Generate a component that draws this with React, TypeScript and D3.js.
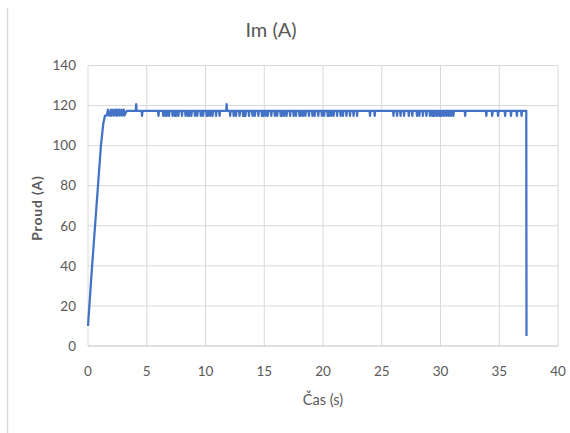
import React, { useEffect, useRef } from 'react';
import * as d3 from 'd3';

// ramp-up at start, then flat level with short dips and two spikes, drop at the end
const rampTimes = [0, 0.15, 0.35, 0.6, 0.85, 1.1, 1.3, 1.45, 1.6, 1.7, 1.8, 1.9];
const rampValues = [10, 23, 40, 60, 80, 100, 111, 115, 115, 118, 115, 115];
const earlyJagTimes = [2.0, 2.2, 2.4, 2.5, 2.7, 2.9, 3.1];
const dipTimes = [
  4.6, 6.0, 6.4, 6.6, 6.7, 6.9, 7.2, 7.4, 7.5, 7.7, 8.0, 8.3, 8.5, 8.6, 8.8, 9.1, 9.3,
  9.6, 9.8, 10.1, 10.2, 10.4, 10.6, 10.9, 11.2, 12.1, 12.4, 12.6, 12.9, 13.2, 13.3,
  13.4, 13.7, 14.0, 14.2, 14.5, 14.8, 14.9, 15.1, 15.3, 15.6, 15.9, 16.1, 16.4, 16.5,
  16.7, 16.9, 17.2, 17.5, 17.7, 18.0, 18.1, 18.3, 18.5, 18.8, 19.1, 19.3, 19.6, 19.9,
  20.1, 20.4, 20.5, 20.7, 20.9, 21.2, 21.5, 21.7, 22.0, 22.3, 22.6, 22.9, 24.0, 24.4,
  26.0, 26.3, 26.6, 26.9, 27.3, 27.6, 28.0, 28.2, 28.5, 28.8, 29.1, 29.3, 29.4, 29.5,
  29.7, 29.9, 30.0, 30.1, 30.3, 30.5, 30.7, 30.9, 31.1, 32.1, 33.9, 34.4, 34.9, 35.5,
  36.0, 36.5, 36.9,
];
const spikeTimes = [4.1, 11.8];
const baseLevel = 117.4;
const dipLevel = 114.8;
const spikeLevel = 120.7;
const endTime = 37.3;
const endValue = 5;

const xTicks = [0, 5, 10, 15, 20, 25, 30, 35, 40];
const yTicks = [0, 20, 40, 60, 80, 100, 120, 140];

const font = 'Lato, "Open Sans", sans-serif';
const textColor = '#595959';

const App: React.FC = () => {
  const svgRef = useRef<SVGSVGElement>(null);

  useEffect(() => {
    if (!svgRef.current) return;
    const svg = d3.select(svgRef.current);
    svg.selectAll('*').remove();

    const width = 570;
    const height = 433;
    const margin = { top: 65.5, right: 12, bottom: 87, left: 88 };
    const w = width - margin.left - margin.right;
    const h = height - margin.top - margin.bottom;

    const x = d3.scaleLinear().domain([0, 40]).range([0, w]);
    const y = d3.scaleLinear().domain([0, 140]).range([h, 0]);

    // build point list from the arrays above
    const pts: [number, number][] = rampTimes.map((t, i) => [t, rampValues[i]]);
    earlyJagTimes.forEach((t) => {
      pts.push([t - 0.05, 118]);
      pts.push([t, 115]);
    });
    pts.push([3.3, baseLevel]);
    const events = [
      ...dipTimes.map((t) => ({ t, v: dipLevel })),
      ...spikeTimes.map((t) => ({ t, v: spikeLevel })),
    ].sort((a, b) => a.t - b.t);
    events.forEach((e) => {
      pts.push([e.t - 0.04, baseLevel]);
      pts.push([e.t, e.v]);
      pts.push([e.t + 0.04, baseLevel]);
    });
    pts.push([endTime, baseLevel]);
    pts.push([endTime + 0.02, endValue]);

    // left frame edge
    svg.append('line')
      .attr('x1', 7.5).attr('x2', 7.5).attr('y1', 8).attr('y2', height)
      .attr('stroke', '#d9d9d9').attr('stroke-width', 1.5);

    svg.append('text')
      .attr('x', 271).attr('y', 37)
      .attr('text-anchor', 'middle')
      .attr('font-family', font).attr('font-size', 20)
      .attr('fill', textColor)
      .text('Im (A)');

    const g = svg.append('g').attr('transform', `translate(${margin.left},${margin.top})`);

    g.append('g').selectAll('line.h').data(yTicks.slice(1)).join('line')
      .attr('x1', 0).attr('x2', w)
      .attr('y1', (d) => y(d)).attr('y2', (d) => y(d))
      .attr('stroke', '#d9d9d9').attr('stroke-width', 1);

    g.append('g').selectAll('line.v').data(xTicks).join('line')
      .attr('x1', (d) => x(d)).attr('x2', (d) => x(d))
      .attr('y1', 0).attr('y2', h)
      .attr('stroke', '#d9d9d9').attr('stroke-width', 1);

    g.append('line')
      .attr('x1', 0).attr('x2', w).attr('y1', h).attr('y2', h)
      .attr('stroke', '#bfbfbf').attr('stroke-width', 1);

    g.append('g').selectAll('text').data(yTicks).join('text')
      .attr('x', -12).attr('y', (d) => y(d))
      .attr('dy', '0.35em')
      .attr('text-anchor', 'end')
      .attr('font-family', font).attr('font-size', 13.5)
      .attr('fill', textColor)
      .text((d) => d);

    g.append('g').selectAll('text').data(xTicks).join('text')
      .attr('x', (d) => x(d)).attr('y', h + 25)
      .attr('dy', '0.35em')
      .attr('text-anchor', 'middle')
      .attr('font-family', font).attr('font-size', 13.5)
      .attr('fill', textColor)
      .text((d) => d);

    svg.append('text')
      .attr('x', 323).attr('y', 400)
      .attr('dy', '0.35em')
      .attr('text-anchor', 'middle')
      .attr('font-family', font).attr('font-size', 14.5)
      .attr('fill', textColor)
      .text('Čas (s)');

    svg.append('text')
      .attr('transform', 'translate(37.5,208) rotate(-90)')
      .attr('dy', '0.35em')
      .attr('text-anchor', 'middle')
      .attr('font-family', font).attr('font-size', 14)
      .attr('font-weight', 'bold')
      .attr('letter-spacing', 0.8)
      .attr('fill', textColor)
      .text('Proud (A)');

    const line = d3.line<[number, number]>()
      .x((d) => x(d[0]))
      .y((d) => y(d[1]));

    g.append('path')
      .datum(pts)
      .attr('fill', 'none')
      .attr('stroke', '#4472c4')
      .attr('stroke-width', 2.25)
      .attr('stroke-linejoin', 'round')
      .attr('d', line);
  }, []);

  return (
    <div style={{ position: 'absolute', left: 0, top: 0 }}>
      <svg ref={svgRef} width={570} height={433} style={{ display: 'block', background: '#fff' }} />
    </div>
  );
};

export default App;
